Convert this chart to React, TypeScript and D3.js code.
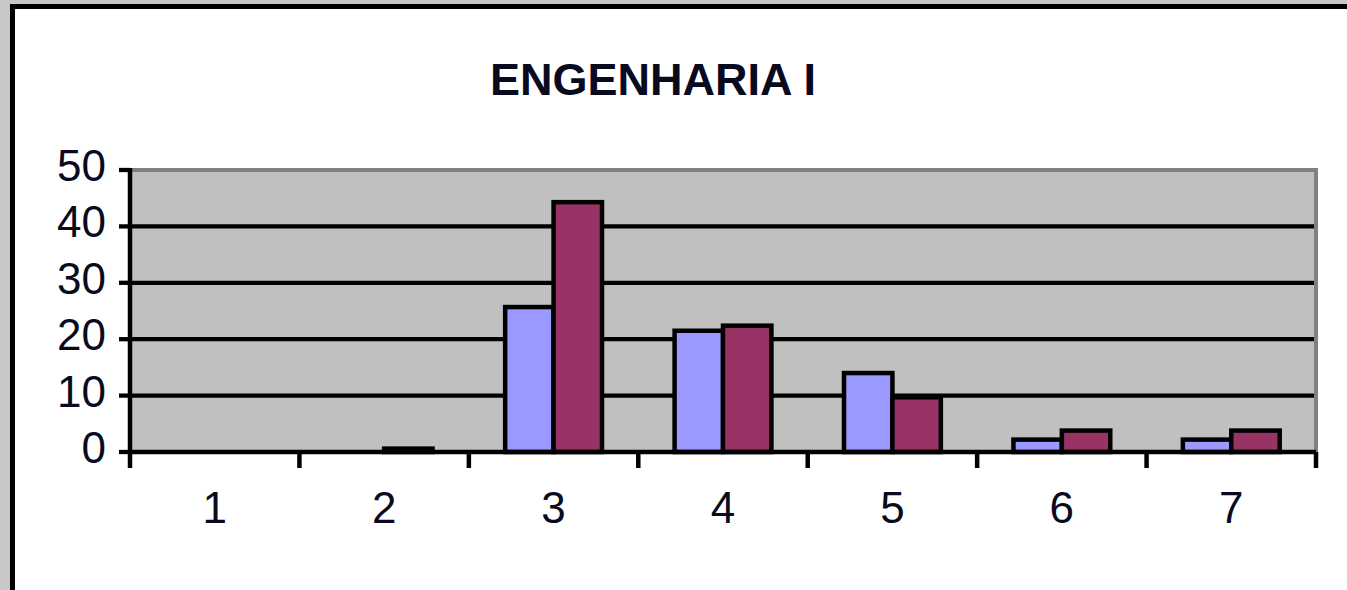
import * as d3 from 'd3';

const categories = ['1', '2', '3', '4', '5', '6', '7'];
const seriesA = [0, 0, 25.7, 21.5, 14, 2.2, 2.2];
const seriesB = [0, 0.6, 44.3, 22.4, 9.7, 3.8, 3.8];
const yTicks = [0, 10, 20, 30, 40, 50];
const title = 'ENGENHARIA I';

const W = 1347;
const H = 590;
const plot = { left: 130, right: 1316, top: 170, bottom: 452 };
const font = '"Liberation Sans", Arial, sans-serif';

export default function App() {
  const x = d3.scaleBand<string>().domain(categories).range([plot.left, plot.right]).paddingInner(0).paddingOuter(0);
  const x1 = d3.scaleBand<string>().domain(['a', 'b']).range([0, x.bandwidth()]).paddingInner(0).paddingOuter(0.75);
  const y = d3.scaleLinear().domain([0, 50]).range([plot.bottom, plot.top]);

  const series = [
    { key: 'a', values: seriesA, fill: '#9999ff' },
    { key: 'b', values: seriesB, fill: '#993366' },
  ];

  // category boundaries for the bottom ticks
  const bounds = [...categories.map((c) => x(c) ?? 0), plot.right];

  return (
    <div style={{ position: 'fixed', left: 0, top: 0 }}>
      <svg width={W} height={H} style={{ display: 'block' }}>
        <rect x={0} y={0} width={W} height={H} fill="#c8c8c8" />
        <rect x={12.5} y={6.5} width={W} height={H} fill="#ffffff" stroke="#000" strokeWidth={5} />

        <text x={653} y={94.5} textAnchor="middle" fontFamily={font} fontWeight="bold" fontSize={45} fill="#0a0a1e">
          {title}
        </text>

        {/* plot area */}
        <rect
          x={plot.left}
          y={plot.top}
          width={plot.right - plot.left}
          height={plot.bottom - plot.top}
          fill="#c0c0c0"
          stroke="#808080"
          strokeWidth={4}
        />

        {yTicks.slice(1, -1).map((t) => (
          <line key={t} x1={plot.left} x2={plot.right - 2} y1={y(t)} y2={y(t)} stroke="#000" strokeWidth={4.3} />
        ))}

        {series.map((s) =>
          s.values.map((v, i) => {
            const bx = (x(categories[i]) ?? 0) + (x1(s.key) ?? 0);
            return (
              <rect
                key={s.key + i}
                x={bx}
                y={y(v)}
                width={x1.bandwidth()}
                height={y(0) - y(v)}
                fill={s.fill}
                stroke="#000"
                strokeWidth={4.5}
              />
            );
          })
        )}

        {/* axes */}
        <line x1={plot.left} x2={plot.left} y1={plot.top - 2} y2={plot.bottom} stroke="#000" strokeWidth={4.5} />
        <line x1={plot.left} x2={plot.right} y1={plot.bottom} y2={plot.bottom} stroke="#000" strokeWidth={4.5} />
        {yTicks.map((t) => (
          <g key={t}>
            <line x1={plot.left - 11} x2={plot.left} y1={y(t)} y2={y(t)} stroke="#000" strokeWidth={4.3} />
            <text x={106} y={y(t) + 11} textAnchor="end" fontFamily={font} fontSize={44} fill="#0a0a1e">
              {t}
            </text>
          </g>
        ))}
        {bounds.map((b, i) => (
          <line key={i} x1={b} x2={b} y1={plot.bottom} y2={plot.bottom + 16} stroke="#000" strokeWidth={4.5} />
        ))}
        {categories.map((c) => (
          <text
            key={c}
            x={(x(c) ?? 0) + x.bandwidth() / 2}
            y={522.5}
            textAnchor="middle"
            fontFamily={font}
            fontSize={44}
            fill="#0a0a1e"
          >
            {c}
          </text>
        ))}
      </svg>
    </div>
  );
}
